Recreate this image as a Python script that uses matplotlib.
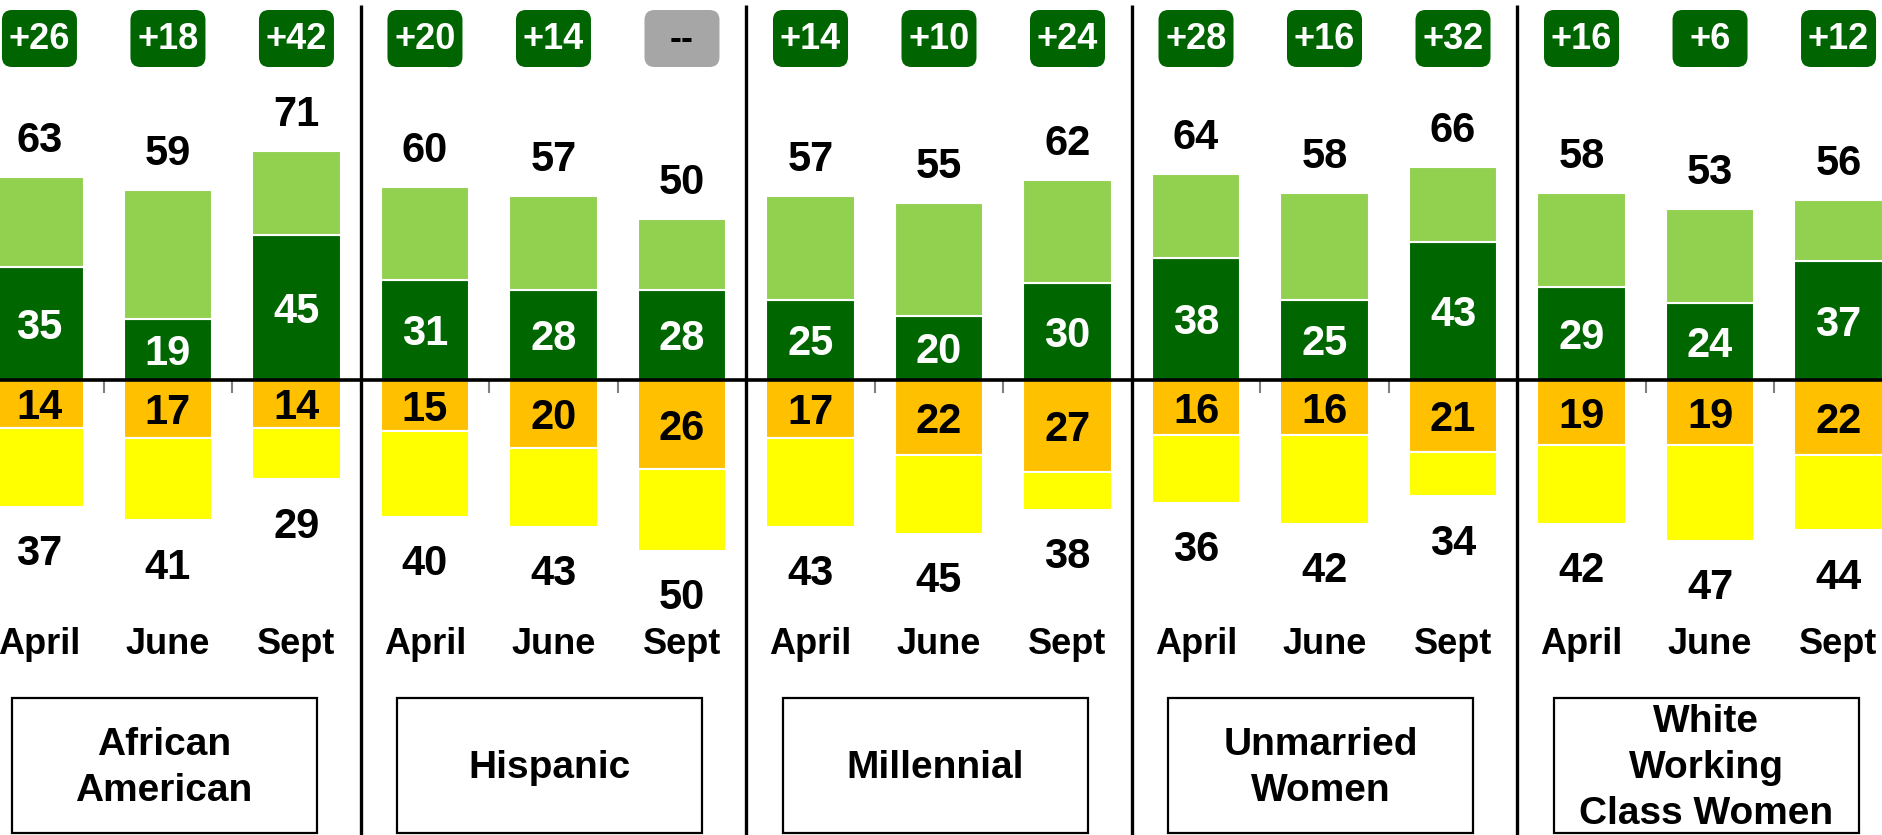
import matplotlib
matplotlib.use("Agg")
import matplotlib.pyplot as plt
from matplotlib.patches import FancyBboxPatch, Rectangle

# ---- data ----
groups = ["African\nAmerican", "Hispanic", "Millennial", "Unmarried\nWomen", "White\nWorking\nClass Women"]
months = ["April", "June", "Sept"]
pos_total = [63, 59, 71, 60, 57, 50, 57, 55, 62, 64, 58, 66, 58, 53, 56]
pos_strong = [35, 19, 45, 31, 28, 28, 25, 20, 30, 38, 25, 43, 29, 24, 37]
neg_strong = [14, 17, 14, 15, 20, 26, 17, 22, 27, 16, 16, 21, 19, 19, 22]
neg_total = [37, 41, 29, 40, 43, 50, 43, 45, 38, 36, 42, 34, 42, 47, 44]

# ---- style ----
DARK_GREEN = "#006600"
LIGHT_GREEN = "#92D050"
ORANGE = "#FFC000"
YELLOW = "#FFFF00"
BADGE_GREEN = "#006400"
BADGE_GRAY = "#A6A6A6"
NUM_FONT = ["Liberation Sans", "DejaVu Sans"]
BOX_FONT = ["Liberation Sans", "DejaVu Sans"]

W, H = 1883, 835
ZERO_PX = 380
POS_PX_PER_UNIT = 3.22
NEG_PX_PER_UNIT = 3.42
n = len(pos_total)
xs = list(range(n))
xlim = (-0.307, 14.346)
px_per_x = W / (xlim[1] - xlim[0])
bar_w = 0.69

fig = plt.figure(figsize=(W / 100, H / 100), dpi=100)
fig.patch.set_facecolor("white")

pos_h = ZERO_PX / H
ax_pos = fig.add_axes([0, 1 - pos_h, 1, pos_h])
ax_neg = fig.add_axes([0, 0, 1, 1 - pos_h])
ax_ov = fig.add_axes([0, 0, 1, 1], zorder=5)

ax_pos.set_ylim(0, ZERO_PX / POS_PX_PER_UNIT)
ax_neg.set_ylim(-(H - ZERO_PX) / NEG_PX_PER_UNIT, 0)
for ax in (ax_pos, ax_neg, ax_ov):
    ax.set_xlim(*xlim)
    ax.set_facecolor("none")
ax_ov.set_ylim(H, 0)
ax_ov.axis("off")
ax_pos.axis("off")
for s in ax_neg.spines.values():
    s.set_visible(False)
ax_neg.set_yticks([])
ax_neg.spines["top"].set_visible(True)
ax_neg.spines["top"].set_color("#808080")
ax_neg.spines["top"].set_linewidth(1.5)
ax_neg.xaxis.set_ticks_position("top")
ax_neg.set_xticks([i + 0.5 for i in range(n - 1)])
ax_neg.set_xticklabels([])
ax_neg.tick_params(axis="x", direction="in", length=9, width=1.5, color="#808080")

light_part = [t - s for t, s in zip(pos_total, pos_strong)]
yellow_part = [t - s for t, s in zip(neg_total, neg_strong)]

ax_pos.bar(xs, pos_strong, width=bar_w, color=DARK_GREEN, edgecolor="white", linewidth=1.5)
ax_pos.bar(xs, light_part, bottom=pos_strong, width=bar_w, color=LIGHT_GREEN, edgecolor="white", linewidth=1.5)
ax_neg.bar(xs, [-v for v in neg_strong], width=bar_w, color=ORANGE, edgecolor="white", linewidth=1.5)
ax_neg.bar(xs, [-v for v in yellow_part], bottom=[-v for v in neg_strong], width=bar_w,
           color=YELLOW, edgecolor="white", linewidth=1.5)

# zero line on top of everything
ax_ov.axhline(ZERO_PX, color="black", lw=2.6, zorder=4)

txt_kw = dict(fontsize=30, fontweight="bold", family=NUM_FONT, ha="center", va="baseline")
for i in xs:
    ax_pos.annotate(str(pos_total[i]), (i, pos_total[i]), xytext=(0, 18), textcoords="offset points",
                    color="black", **txt_kw)
    ax_pos.annotate(str(pos_strong[i]), (i, pos_strong[i] / 2), xytext=(0, -11), textcoords="offset points",
                    color="white", **txt_kw)
    ax_neg.annotate(str(neg_strong[i]), (i, -neg_strong[i] / 2), xytext=(0, -11), textcoords="offset points",
                    color="black", **txt_kw)
    ax_neg.annotate(str(neg_total[i]), (i, -neg_total[i]), xytext=(0, -42), textcoords="offset points",
                    color="black", **txt_kw)

# net badges
badge_w = 75 / px_per_x
badge_top, badge_h = 10, 57
for i in xs:
    net = pos_total[i] - neg_total[i]
    label = "--" if net == 0 else f"{net:+d}"
    fc = BADGE_GRAY if net == 0 else BADGE_GREEN
    tc = "black" if net == 0 else "white"
    p = FancyBboxPatch((i - badge_w / 2, badge_top), badge_w, badge_h,
                       boxstyle=f"round,pad=0,rounding_size={10 / px_per_x}",
                       mutation_aspect=px_per_x, facecolor=fc, edgecolor="none")
    ax_ov.add_patch(p)
    ax_ov.text(i, badge_top + badge_h / 2 + 1, label, fontsize=26, fontweight="bold", family=NUM_FONT,
               color=tc, ha="center", va="center")

# month labels
for i in xs:
    ax_ov.text(i, 654, months[i % 3], fontsize=26, fontweight="bold", family=NUM_FONT,
               color="black", ha="center", va="baseline")

# dividers
for g in range(1, len(groups)):
    ax_ov.plot([3 * g - 0.5, 3 * g - 0.5], [5, H], color="black", lw=2.4, solid_capstyle="butt")

# group boxes
box_w = 305 / px_per_x
for g, name in enumerate(groups):
    cx = 3 * g + 1 - 0.03
    ax_ov.add_patch(Rectangle((cx - box_w / 2, 698), box_w, 135, facecolor="white",
                              edgecolor="black", lw=1.6))
    ax_ov.text(cx, 768, name, fontsize=28, fontweight="bold", family=BOX_FONT, ha="center",
               va="center", linespacing=1.36, color="black")

fig.savefig("out.png", dpi=100, facecolor="white")
